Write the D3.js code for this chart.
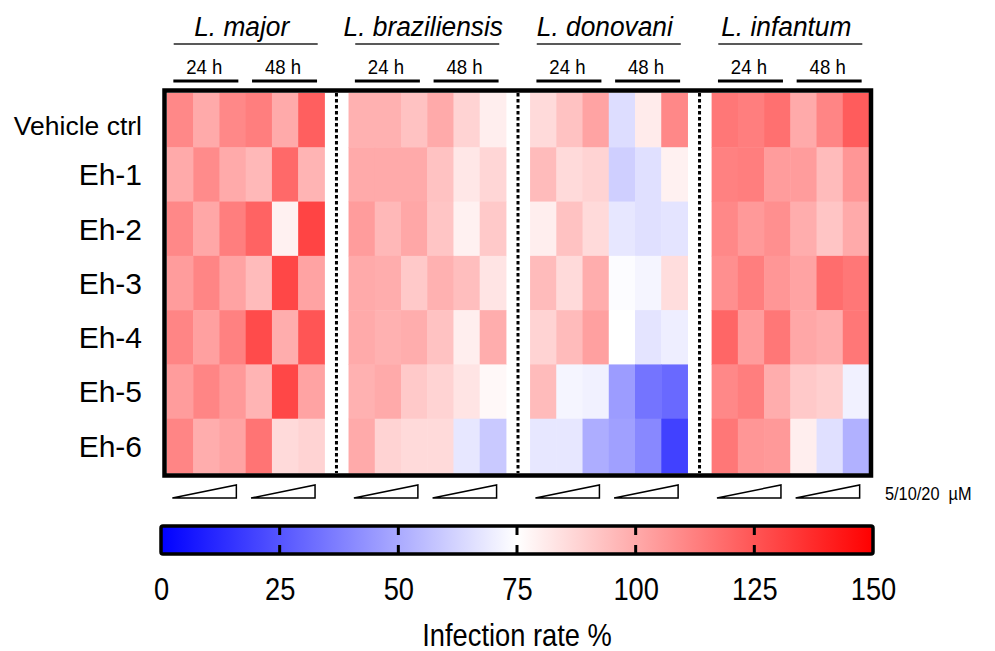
<!DOCTYPE html>
<html>
<head>
<meta charset="utf-8">
<script src="https://cdn.jsdelivr.net/npm/d3@7"></script>
<style>
  body { margin: 0; background: #fff; }
  svg { display: block; }
  text { font-family: "Liberation Sans", Arial, sans-serif; }
</style>
</head>
<body>
<svg id="chart" width="995" height="651"></svg>
<script>
const species = ['L. major', 'L. braziliensis', 'L. donovani', 'L. infantum'];
const times = ['24 h', '48 h'];
const doses = [5, 10, 20];
const rowLabels = ['Vehicle ctrl', 'Eh-1', 'Eh-2', 'Eh-3', 'Eh-4', 'Eh-5', 'Eh-6'];
const colorTicks = [0, 25, 50, 75, 100, 125, 150];

// infection rate %, rows = compounds, cols = 24h 5/10/20 then 48h 5/10/20
const major = [
  [110, 100, 110, 113, 100, 122],
  [100, 109, 100, 96, 119, 97],
  [110, 101, 113, 121, 79, 130],
  [104, 111, 102, 95, 129, 102],
  [111, 103, 112, 128, 99, 125],
  [104, 111, 105, 97, 129, 102],
  [111, 99, 102, 116, 86, 88]
];
const braziliensis = [
  [98, 98, 93, 100, 88, 80],
  [100, 100, 100, 93, 82, 87],
  [104, 96, 101, 92, 79, 91],
  [100, 99, 91, 98, 94, 83],
  [100, 98, 99, 93, 80, 99],
  [98, 100, 91, 88, 83, 77],
  [100, 88, 86, 86, 68, 59]
];
const donovani = [
  [86, 93, 102, 65, 81, 110],
  [95, 86, 88, 61, 66, 79],
  [80, 93, 86, 68, 66, 67],
  [95, 86, 99, 74, 72, 85],
  [88, 95, 103, 75, 67, 70],
  [95, 72, 71, 46, 34, 31],
  [68, 68, 51, 47, 40, 19]
];
const infantum = [
  [115, 113, 117, 100, 111, 123],
  [112, 113, 104, 104, 95, 106],
  [110, 105, 108, 99, 92, 100],
  [108, 113, 106, 102, 118, 115],
  [120, 104, 115, 101, 99, 115],
  [110, 113, 99, 91, 89, 71],
  [115, 106, 105, 80, 66, 52]
];
const valuesBySpecies = [major, braziliensis, donovani, infantum];

const svg = d3.select('#chart');

// squeezed text, the original uses a condensed face
function label(g, x, y, txt, size, sx, anchor) {
  return g.append('text')
    .attr('transform', `translate(${x},${y}) scale(${sx},1)`)
    .attr('text-anchor', anchor || 'middle')
    .attr('font-size', size)
    .text(txt);
}

const color = d3.scaleLinear()
  .domain([0, 75, 150])
  .range(['#0000ff', '#ffffff', '#ff0000']);

const blockX = d3.scaleBand().domain(species).range([167, 869]).paddingInner(0.133);
const colX = d3.scaleBand().domain(d3.range(6)).range([0, blockX.bandwidth()]);
const y = d3.scaleBand().domain(rowLabels).range([93, 473]);

// flatten cells
const cells = [];
species.forEach((s, si) => {
  valuesBySpecies[si].forEach((row, ri) => {
    row.forEach((v, ci) => {
      cells.push({ species: s, row: rowLabels[ri], col: ci, value: v });
    });
  });
});

svg.append('g').selectAll('rect')
  .data(cells)
  .enter().append('rect')
  .attr('x', d => blockX(d.species) + colX(d.col))
  .attr('y', d => y(d.row))
  .attr('width', colX.bandwidth() + 0.5)
  .attr('height', y.bandwidth() + 0.5)
  .attr('fill', d => color(d.value));

// dotted separators
const gaps = species.slice(1).map((s, i) =>
  (blockX(species[i]) + blockX.bandwidth() + blockX(s)) / 2);
svg.append('g').selectAll('line')
  .data(gaps)
  .enter().append('line')
  .attr('x1', d => d).attr('x2', d => d)
  .attr('y1', 93).attr('y2', 473)
  .attr('stroke', '#000')
  .attr('stroke-width', 3)
  .attr('stroke-dasharray', '3.5,2.5');

// frame
svg.append('rect')
  .attr('x', 164.5).attr('y', 90.5)
  .attr('width', 706.5).attr('height', 385)
  .attr('fill', 'none')
  .attr('stroke', '#000')
  .attr('stroke-width', 4.5);

// header
const header = svg.append('g');
species.forEach(s => {
  const cx = blockX(s) + blockX.bandwidth() / 2;
  label(header, cx - 4, 36, s, 28, 0.94).attr('font-style', 'italic');
  header.append('line')
    .attr('x1', cx - 72).attr('x2', cx + 72)
    .attr('y1', 44).attr('y2', 44)
    .attr('stroke', '#222').attr('stroke-width', 1.3);
  times.forEach((t, ti) => {
    const gx = blockX(s) + colX(ti * 3) + colX.bandwidth() * 1.5;
    label(header, gx - 2, 74, t, 20, 0.93);
    header.append('line')
      .attr('x1', gx - 33).attr('x2', gx + 32)
      .attr('y1', 81).attr('y2', 81)
      .attr('stroke', '#000').attr('stroke-width', 3);
    // dose wedge
    header.append('path')
      .attr('d', `M${gx - 34},498 L${gx + 30},498 L${gx + 30},485 Z`)
      .attr('fill', '#fff')
      .attr('stroke', '#000')
      .attr('stroke-width', 1.5)
      .attr('stroke-linejoin', 'miter');
  });
});

label(svg, 885, 500, '5/10/20  \u00b5M', 19, 0.86, 'start')
  .style('white-space', 'pre');

// row labels
svg.append('g').selectAll('text')
  .data(rowLabels)
  .enter().append('text')
  .attr('x', 142)
  .attr('y', d => y(d) + y.bandwidth() / 2)
  .attr('dy', d => d === 'Vehicle ctrl' ? '0.55em' : '0.36em')
  .attr('text-anchor', 'end')
  .attr('font-size', d => d === 'Vehicle ctrl' ? 26.5 : 30)
  .text(d => d);

// colour bar
const cbX = d3.scaleLinear().domain([0, 150]).range([161, 873]);
const defs = svg.append('defs');
const grad = defs.append('linearGradient').attr('id', 'cb');
colorTicks.forEach(v => {
  grad.append('stop')
    .attr('offset', (v / 150 * 100) + '%')
    .attr('stop-color', color(v));
});
svg.append('rect')
  .attr('x', cbX(0)).attr('y', 526)
  .attr('width', cbX(150) - cbX(0)).attr('height', 28)
  .attr('rx', 2)
  .attr('fill', 'url(#cb)')
  .attr('stroke', '#000')
  .attr('stroke-width', 3.5);

const inner = colorTicks.slice(1, -1);
svg.append('g').selectAll('line.t1')
  .data(inner).enter().append('line')
  .attr('x1', d => cbX(d)).attr('x2', d => cbX(d))
  .attr('y1', 526).attr('y2', 535)
  .attr('stroke', '#000').attr('stroke-width', 3);
svg.append('g').selectAll('line.t2')
  .data(inner).enter().append('line')
  .attr('x1', d => cbX(d)).attr('x2', d => cbX(d))
  .attr('y1', 545).attr('y2', 554)
  .attr('stroke', '#000').attr('stroke-width', 3);

const axis = svg.append('g')
  .attr('transform', 'translate(0,578)')
  .call(d3.axisBottom(cbX).tickValues(colorTicks).tickSize(0).tickPadding(0));
axis.select('.domain').remove();
axis.selectAll('text')
  .attr('font-family', null)
  .attr('font-size', 31)
  .attr('fill', '#000')
  .attr('dy', '0.72em')
  .attr('transform', 'scale(0.88,1)');

label(svg, 517, 646, 'Infection rate %', 31, 0.88);
</script>
</body>
</html>
